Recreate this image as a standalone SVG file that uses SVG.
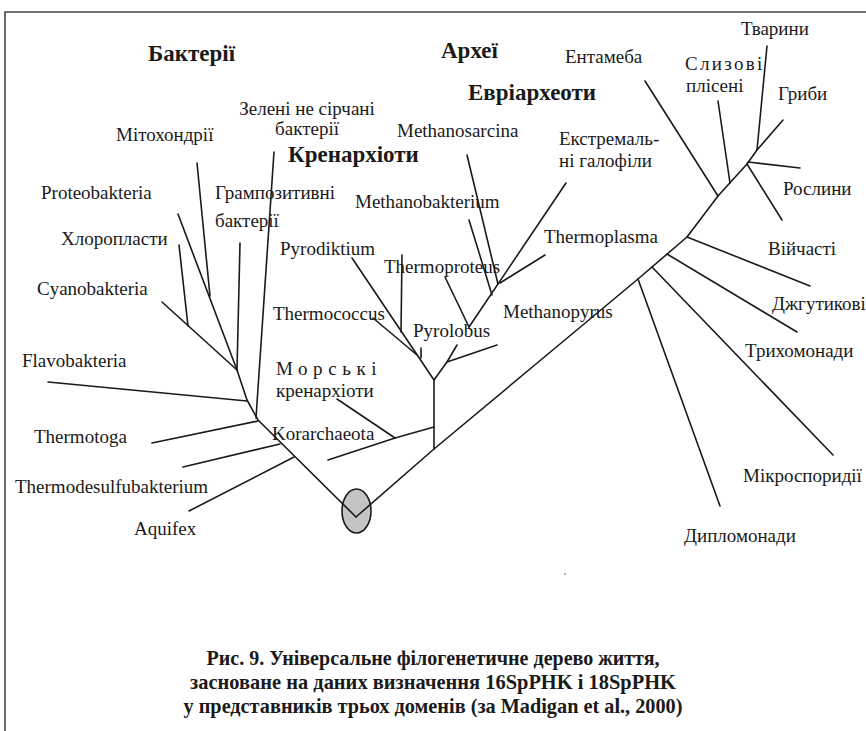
<svg xmlns="http://www.w3.org/2000/svg" width="866" height="731" viewBox="0 0 866 731">
<style>
.l{font-family:"Liberation Serif","Times New Roman",serif;font-size:19px;fill:#1a1a1a}
.h{font-family:"Liberation Serif","Times New Roman",serif;font-size:23px;font-weight:bold;fill:#1a1a1a}
.c{font-family:"Liberation Serif","Times New Roman",serif;font-size:21px;font-weight:bold;fill:#1a1a1a;text-anchor:middle}
.e line,.e polyline{stroke:#1a1a1a;stroke-width:1.6;fill:none;stroke-linecap:round;stroke-linejoin:round}
.f{stroke:#444;stroke-width:1.6;fill:none}
</style>
<rect width="866" height="731" fill="#fff"/>
<g id="frame"><polyline class="f" points="5,731 5,12 866,12"/></g>
<g id="root"><ellipse cx="356.5" cy="511" rx="14.5" ry="22" fill="#c4c4c4" stroke="#1a1a1a" stroke-width="1.6"/></g>
<g id="connectors" class="e">
<!-- bacteria -->
<polyline points="356,517 258,420 247,400 237,370"/>
<line x1="258" y1="421" x2="152" y2="443"/>
<line x1="280" y1="444" x2="183" y2="467"/>
<line x1="294" y1="457" x2="189" y2="511"/>
<line x1="247" y1="401" x2="48" y2="382"/>
<line x1="256" y1="418" x2="274" y2="152"/>
<line x1="237" y1="370" x2="240" y2="243"/>
<line x1="237" y1="370" x2="162" y2="302"/>
<line x1="188" y1="326" x2="179" y2="245"/>
<line x1="237" y1="370" x2="178" y2="214"/>
<line x1="210" y1="296" x2="197" y2="163"/>
<!-- archaea / eukarya trunk -->
<polyline points="356,517 434,449 560,344 638,279 687,237 718,196 747,164 757,150 783,120"/>
<!-- crenarchaeota -->
<line x1="434" y1="449" x2="434" y2="380"/>
<line x1="434" y1="427" x2="395" y2="438"/>
<line x1="395" y1="438" x2="328" y2="460"/>
<line x1="395" y1="438" x2="337" y2="399"/>
<line x1="434" y1="380" x2="352" y2="258"/>
<line x1="417" y1="355" x2="373" y2="318"/>
<line x1="401" y1="332" x2="402" y2="255"/>
<line x1="421" y1="348" x2="421" y2="358"/>
<polyline points="434,380 447,362 457,345"/>
<line x1="447" y1="362" x2="497" y2="345"/>
<!-- euryarchaeota -->
<line x1="469" y1="327" x2="566" y2="183"/>
<line x1="469" y1="327" x2="445" y2="277"/>
<line x1="492" y1="295" x2="469" y2="220"/>
<line x1="498" y1="284" x2="467" y2="155"/>
<line x1="500" y1="283" x2="545" y2="255"/>
<!-- eukarya -->
<line x1="638" y1="279" x2="720" y2="506"/>
<line x1="652" y1="267" x2="833" y2="455"/>
<line x1="667" y1="254" x2="797" y2="332"/>
<line x1="687" y1="237" x2="810" y2="286"/>
<line x1="718" y1="196" x2="645" y2="81"/>
<line x1="730" y1="183" x2="718" y2="101"/>
<line x1="748" y1="162" x2="800" y2="168"/>
<line x1="747" y1="164" x2="782" y2="220"/>
<line x1="757" y1="150" x2="767" y2="46"/>
</g>
<g id="headings">
<text id="bacteria" class="h" x="148" y="61">Бактерії</text>
<text id="archaea" class="h" x="441" y="58">Археї</text>
<text id="euryarchaeota" class="h" x="468" y="100">Евріархеоти</text>
<text id="crenarchaeota" class="h" x="288" y="162">Кренархіоти</text>
</g>
<g id="n-green"><text class="l" x="307" y="115" text-anchor="middle">Зелені не сірчані</text><text class="l" x="307" y="135" text-anchor="middle">бактерії</text></g>
<g id="n-mito"><text class="l" x="116" y="141">Мітохондрії</text></g>
<g id="n-proteo"><text class="l" x="41" y="199">Proteobakteria</text></g>
<g id="n-gram"><text class="l" x="215" y="199">Грампозитивні</text><text class="l" x="215" y="227">бактерії</text></g>
<g id="n-chloro"><text class="l" x="61" y="245">Хлоропласти</text></g>
<g id="n-cyano"><text class="l" x="37" y="295">Cyanobakteria</text></g>
<g id="n-flavo"><text class="l" x="22" y="367">Flavobakteria</text></g>
<g id="n-thermotoga"><text class="l" x="34" y="443">Thermotoga</text></g>
<g id="n-thermodesulfo"><text class="l" x="15" y="493">Thermodesulfubakterium</text></g>
<g id="n-aquifex"><text class="l" x="134" y="535">Aquifex</text></g>
<g id="n-pyrodiktium"><text class="l" x="280" y="255">Pyrodiktium</text></g>
<g id="n-thermococcus"><text class="l" x="273" y="320">Thermococcus</text></g>
<g id="n-thermoproteus"><text class="l" x="384" y="273">Thermoproteus</text></g>
<g id="n-pyrolobus"><text class="l" x="413" y="337">Pyrolobus</text></g>
<g id="n-marine"><text class="l" x="276" y="375" letter-spacing="5.6">Морські</text><text class="l" x="276" y="397">кренархіоти</text></g>
<g id="n-korarchaeota"><text class="l" x="272" y="440">Korarchaeota</text></g>
<g id="n-methanobakterium"><text class="l" x="355" y="208">Methanobakterium</text></g>
<g id="n-methanosarcina"><text class="l" x="397" y="137">Methanosarcina</text></g>
<g id="n-halophiles"><text class="l" x="559" y="145">Екстремаль-</text><text class="l" x="559" y="167">ні галофіли</text></g>
<g id="n-thermoplasma"><text class="l" x="544" y="243">Thermoplasma</text></g>
<g id="n-methanopyrus"><text class="l" x="503" y="318">Methanopyrus</text></g>
<g id="n-animals"><text class="l" x="741" y="35">Тварини</text></g>
<g id="n-entamoeba"><text class="l" x="565" y="63">Ентамеба</text></g>
<g id="n-slime"><text class="l" x="685" y="70" letter-spacing="2.3">Слизові</text><text class="l" x="686" y="92">плісені</text></g>
<g id="n-fungi"><text class="l" x="778" y="100">Гриби</text></g>
<g id="n-plants"><text class="l" x="783" y="195">Рослини</text></g>
<g id="n-ciliates"><text class="l" x="768" y="255">Війчасті</text></g>
<g id="n-flagellates"><text class="l" x="772" y="310">Джгутикові</text></g>
<g id="n-trichomonads"><text class="l" x="745" y="357">Трихомонади</text></g>
<g id="n-microsporidia"><text class="l" x="743" y="482">Мікроспоридії</text></g>
<g id="n-diplomonads"><text class="l" x="684" y="542">Дипломонади</text></g>
<circle cx="565" cy="574" r="1" fill="#999"/>
<g id="caption">
<text class="c" x="433" y="665" textLength="453" lengthAdjust="spacingAndGlyphs">Рис. 9. Універсальне філогенетичне дерево життя,</text>
<text class="c" x="433" y="689" textLength="486" lengthAdjust="spacingAndGlyphs">засноване на даних визначення 16SpPHK і 18SpPHK</text>
<text class="c" x="433" y="713" textLength="499" lengthAdjust="spacingAndGlyphs">у представників трьох доменів (за Madigan et al., 2000)</text>
</g>
</svg>
